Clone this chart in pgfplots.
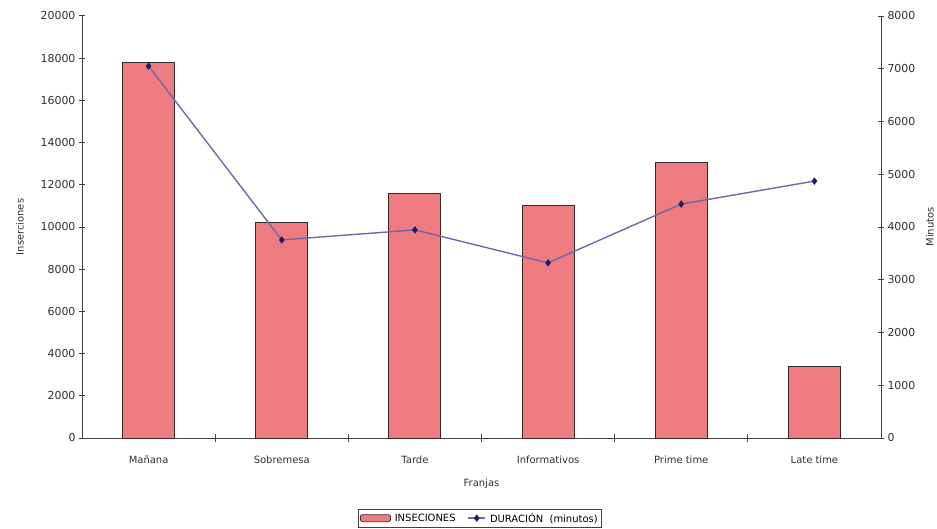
\documentclass[border=0pt]{standalone}
\usepackage{fontspec}
\setmainfont{DejaVu Sans}
\usepackage{pgfplots}
\pgfplotsset{compat=1.18}
\definecolor{barfill}{HTML}{EE7B80}
\definecolor{barline}{HTML}{3A2C2C}
\definecolor{linecol}{HTML}{7068A8}
\definecolor{markcol}{HTML}{1A1A6E}
\definecolor{axcol}{HTML}{4A3C3C}
\definecolor{txt}{HTML}{303030}
\begin{document}
\begin{tikzpicture}
\useasboundingbox (-82bp,-91bp) rectangle (855bp,438bp);
\begin{axis}[
  at={(0,0)}, anchor=south west,
  scale only axis, width=799bp, height=422bp,
  xmin=-0.5, xmax=5.5, ymin=0, ymax=20000,
  axis x line*=bottom, axis y line*=left,
  axis line style={axcol, line width=1pt},
  tick style={axcol, line width=1pt},
  tick align=center, major tick length=6bp, minor tick length=8bp,
  xtick={0,1,2,3,4,5},
  xticklabels={Mañana,Sobremesa,Tarde,Informativos,Prime time,Late time},
  major x tick style={draw=none},
  minor x tick style={draw=axcol, line width=1pt, yshift=4bp},
  minor xtick={0.5,1.5,2.5,3.5,4.5},
  ytick={0,2000,...,20000},
  scaled y ticks=false,
  y tick label style={/pgf/number format/1000 sep={}, /pgf/number format/assume math mode=true, font=\fontsize{11}{12}\selectfont, text=txt},
  x tick label style={font=\fontsize{10}{11}\selectfont, text=txt, yshift=-8bp},
  xlabel={Franjas}, ylabel={Inserciones},
  xlabel style={at={(axis description cs:0.5,-0.109)}, anchor=center, font=\fontsize{10}{11}\selectfont, text=txt},
  ylabel style={at={(axis description cs:-0.0776,0.5)}, anchor=center, rotate=0, font=\fontsize{10}{11}\selectfont, text=txt},
  ybar, bar width=52bp,
]
\addplot[fill=barfill, draw=barline, line width=1pt] coordinates {
 (0,17800) (1,10200) (2,11600) (3,11000) (4,13050) (5,3400)};
\end{axis}
\begin{axis}[
  at={(0,0)}, anchor=south west,
  scale only axis, width=799bp, height=422bp,
  xmin=-0.5, xmax=5.5, ymin=0, ymax=8000,
  axis x line=none, axis y line*=right,
  axis line style={axcol, line width=1pt},
  tick style={axcol, line width=1pt},
  tick align=center, major tick length=6bp,
  ytick={0,1000,...,8000},
  scaled y ticks=false,
  y tick label style={/pgf/number format/1000 sep={}, /pgf/number format/assume math mode=true, font=\fontsize{11}{12}\selectfont, text=txt},
  ylabel={Minutos},
  ylabel style={at={(axis description cs:1.0613,0.5)}, anchor=center, rotate=0, font=\fontsize{10}{11}\selectfont, text=txt},
  legend style={at={(0.498,-0.19)}, anchor=center, legend columns=2, draw=axcol, line width=0.8pt, font=\fontsize{10}{11}\selectfont, inner sep=1.5bp, /tikz/every even column/.append style={column sep=10bp}},
]
\addlegendimage{legend image code/.code={\draw[fill=barfill, draw=barline, line width=0.7pt, rounded corners=1.5bp] (0bp,-3.5bp) rectangle (30bp,3.5bp);}}
\addlegendentry{\hspace{2bp}INSECIONES}
\addplot[linecol, line width=1.4pt, mark=diamond*, mark size=2.6bp, mark options={fill=markcol, draw=markcol}] coordinates {
 (0,7050) (1,3755) (2,3945) (3,3320) (4,4435) (5,4870)};
\addlegendentry{\hspace{2bp}DURACIÓN\ \ (minutos)}
\end{axis}
\end{tikzpicture}
\end{document}
